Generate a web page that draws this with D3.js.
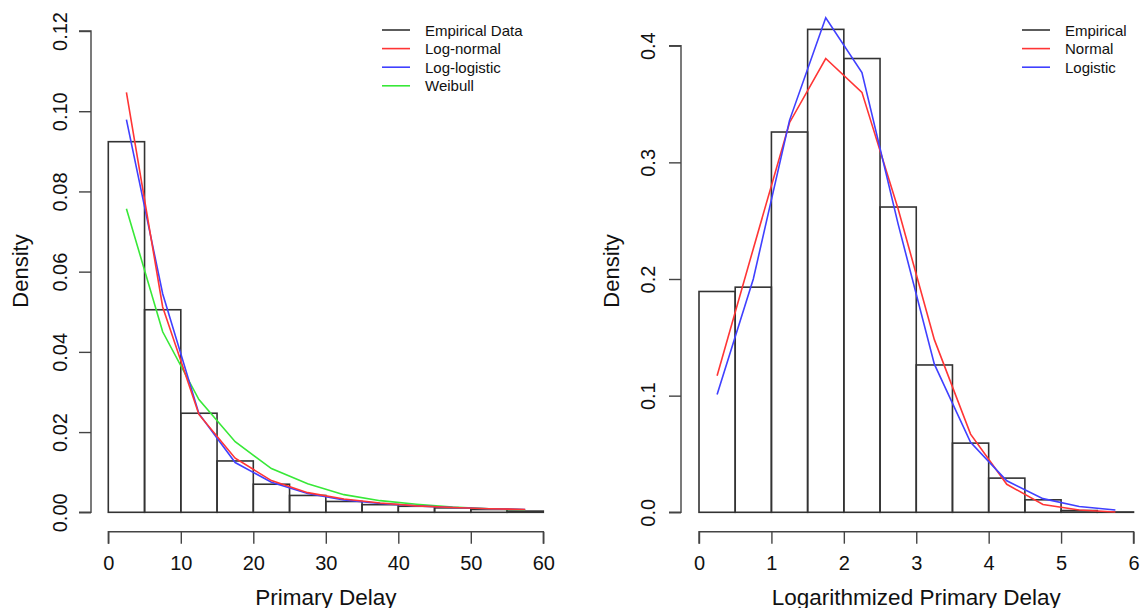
<!DOCTYPE html>
<html><head><meta charset="utf-8">
<script src="https://cdn.jsdelivr.net/npm/d3@7"></script>
<style>
html,body{margin:0;padding:0;background:#fff;}
svg{display:block;font-family:"Liberation Sans",Arial,Helvetica,sans-serif;}
</style></head><body>
<svg id="c" width="1141" height="608"></svg>
<script>
// ---------- Left panel data ----------
const leftBinEdges = [0,5,10,15,20,25,30,35,40,45,50,55,60];
const leftDensity  = [0.0924,0.0505,0.0247,0.0128,0.0070,0.0042,0.0027,0.0019,0.0015,0.0011,0.0007,0.0003];
const leftMids     = [2.5,7.5,12.5,17.5,22.5,27.5,32.5,37.5,42.5,47.5,52.5,57.5];
const logNormal    = [0.1047,0.0512,0.0244,0.0135,0.0079,0.0049,0.0033,0.0023,0.0016,0.0012,0.0009,0.0007];
const logLogistic  = [0.0979,0.0545,0.0246,0.0124,0.0075,0.0047,0.0031,0.0022,0.0016,0.0012,0.0009,0.0007];
const weibull      = [0.0757,0.0450,0.0281,0.0176,0.0109,0.0071,0.0044,0.0029,0.0020,0.0013,0.0009,0.0006];
const leftXTicks   = [0,10,20,30,40,50,60];
const leftYTicks   = [0,0.02,0.04,0.06,0.08,0.10,0.12];
const leftLegend   = ["Empirical Data","Log-normal","Log-logistic","Weibull"];

// ---------- Right panel data ----------
const rightBinEdges = [0,0.5,1,1.5,2,2.5,3,3.5,4,4.5,5,5.5,6];
const rightDensity  = [0.1893,0.193,0.326,0.414,0.389,0.2617,0.1263,0.0593,0.0293,0.0107,0.0015,0.0003];
const rightMids     = [0.25,0.75,1.25,1.75,2.25,2.75,3.25,3.75,4.25,4.75,5.25,5.75];
const normalFit     = [0.117,0.226,0.334,0.389,0.360,0.260,0.148,0.067,0.024,0.0067,0.002,0.0003];
const logisticFit   = [0.101,0.200,0.336,0.424,0.377,0.247,0.127,0.060,0.027,0.0117,0.005,0.002];
const rightXTicks   = [0,1,2,3,4,5,6];
const rightYTicks   = [0,0.1,0.2,0.3,0.4];
const rightLegend   = ["Empirical","Normal","Logistic"];

const COL = {emp:"#333333", red:"#ff3535", blue:"#4040ff", green:"#38e838"};
const svg = d3.select("#c");

function panel(cfg){
  const g = svg.append("g");
  const x = d3.scaleLinear().domain(cfg.xDomain).range(cfg.xRange);
  const y = d3.scaleLinear().domain(cfg.yDomain).range(cfg.yRange);

  g.selectAll("rect.bar").data(cfg.density).join("rect")
    .attr("x", (d,i)=>x(cfg.edges[i]))
    .attr("width", (d,i)=>x(cfg.edges[i+1])-x(cfg.edges[i]))
    .attr("y", d=>y(d))
    .attr("height", d=>y(0)-y(d))
    .attr("fill","none").attr("stroke",COL.emp).attr("stroke-width",1.6);

  const line = d3.line().x((d,i)=>x(cfg.mids[i])).y(d=>y(d));
  cfg.curves.forEach(c=>{
    g.append("path").datum(c.values).attr("d",line)
      .attr("fill","none").attr("stroke",c.color).attr("stroke-width",1.6);
  });

  const yAxis = d3.axisLeft(y).tickValues(cfg.yTicks).tickSize(12).tickFormat(cfg.yFmt);
  const ya = g.append("g").attr("transform",`translate(${cfg.yAxisX},0)`).call(yAxis);
  ya.select(".domain").attr("d",`M-12,${y(cfg.yTicks[0])}H0V${y(cfg.yTicks[cfg.yTicks.length-1])}H-12`);
  ya.selectAll(".domain,.tick line").attr("stroke","#444").attr("stroke-width",1.4);
  ya.selectAll(".tick text")
    .attr("x",0).attr("y",0).attr("dy",null)
    .attr("text-anchor","middle")
    .attr("transform",`translate(${cfg.yLabelX-cfg.yAxisX},0) rotate(-90)`)
    .attr("dominant-baseline","central")
    .attr("font-size",20).attr("fill","#111").attr("font-family",null);

  const xAxis = d3.axisBottom(x).tickValues(cfg.xTicks).tickSize(12).tickPadding(8).tickFormat(d3.format("d"));
  const xa = g.append("g").attr("transform",`translate(0,${cfg.xAxisY})`).call(xAxis);
  xa.select(".domain").attr("d",`M${x(cfg.xTicks[0])},12V0H${x(cfg.xTicks[cfg.xTicks.length-1])}V12`);
  xa.selectAll(".domain,.tick line").attr("stroke","#444").attr("stroke-width",1.4);
  xa.selectAll(".tick text").attr("font-size",20).attr("fill","#111").attr("font-family",null)
    .attr("y",null).attr("dy",null).attr("transform","translate(0,31)").attr("dominant-baseline","central");

  g.append("text").attr("x",(cfg.xRange[0]+cfg.xRange[1])/2).attr("y",597)
    .attr("text-anchor","middle").attr("dominant-baseline","central")
    .attr("font-size",22.5).attr("fill","#111").text(cfg.xTitle);
  g.append("text").attr("transform",`translate(${cfg.yTitleX},271) rotate(-90)`)
    .attr("text-anchor","middle").attr("dominant-baseline","central")
    .attr("font-size",22).attr("fill","#111").text("Density");

  const lg = g.append("g");
  cfg.legend.forEach((name,i)=>{
    const yy = 30 + i*18.6;
    lg.append("line").attr("x1",cfg.legX).attr("x2",cfg.legX+28).attr("y1",yy).attr("y2",yy)
      .attr("stroke",cfg.legColors[i]).attr("stroke-width",1.6);
    lg.append("text").attr("x",cfg.legX+43).attr("y",yy).attr("dominant-baseline","central")
      .attr("font-size",15).attr("fill","#111").text(name);
  });
}

panel({
  edges:leftBinEdges, density:leftDensity, mids:leftMids,
  curves:[{values:weibull,color:COL.green},{values:logLogistic,color:COL.blue},{values:logNormal,color:COL.red}],
  xDomain:[0,60], xRange:[108.3,543.3], yDomain:[0,0.12], yRange:[512.3,31],
  xTicks:leftXTicks, yTicks:leftYTicks, yFmt:d3.format(".2f"),
  yAxisX:91, yLabelX:60, xAxisY:531.7, yTitleX:20,
  xTitle:"Primary Delay", legend:leftLegend,
  legColors:[COL.emp,COL.red,COL.blue,COL.green], legX:382
});
panel({
  edges:rightBinEdges, density:rightDensity, mids:rightMids,
  curves:[{values:normalFit,color:COL.red},{values:logisticFit,color:COL.blue}],
  xDomain:[0,6], xRange:[699,1133.5], yDomain:[0,0.4], yRange:[512.3,45.7],
  xTicks:rightXTicks, yTicks:rightYTicks, yFmt:d3.format(".1f"),
  yAxisX:681, yLabelX:648, xAxisY:531.7, yTitleX:611,
  xTitle:"Logarithmized Primary Delay", legend:rightLegend,
  legColors:[COL.emp,COL.red,COL.blue], legX:1022
});
</script>
</body></html>
